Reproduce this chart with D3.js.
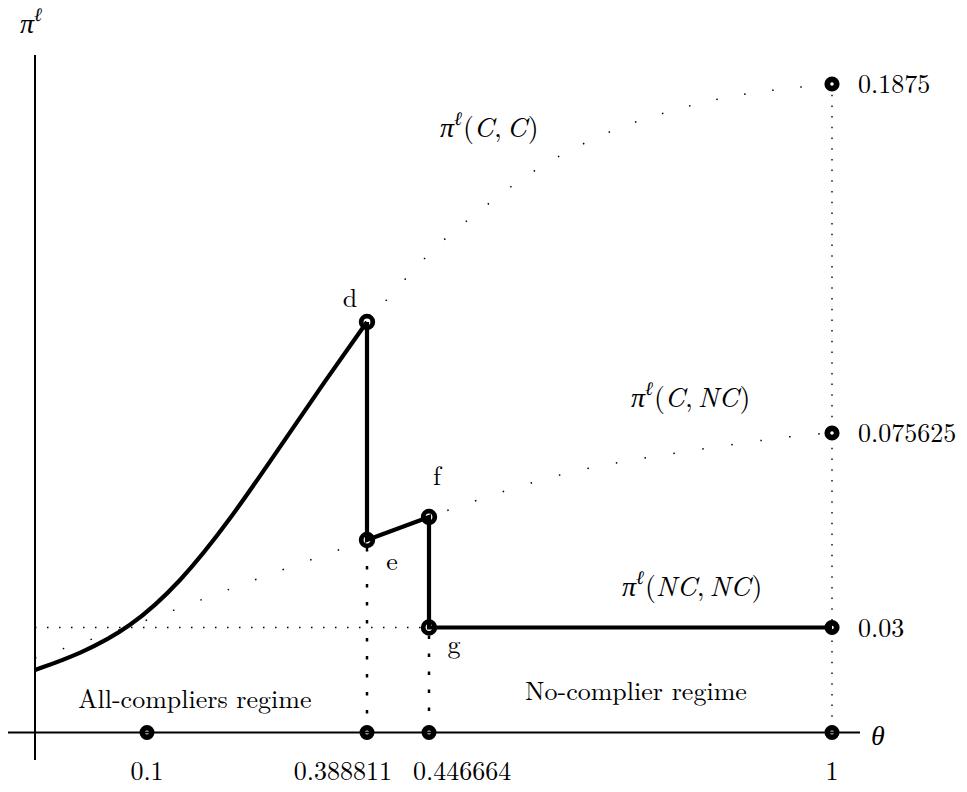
<!DOCTYPE html>
<html>
<head>
<meta charset="utf-8">
<script src="https://cdn.jsdelivr.net/npm/d3@7"></script>
<style>
  html, body { margin: 0; padding: 0; background: #fff; }
  svg { display: block; }
</style>
</head>
<body>
<svg id="chart" width="967" height="792"></svg>
<script>
// ---------- data ----------
const xTicks = [0.1, 0.388811, 0.446664, 1];
const xTickLabels = ["0.1", "0.388811", "0.446664", "1"];
const yTicks = [0.1875, 0.075625, 0.03];
const yTickLabels = ["0.1875", "0.075625", "0.03"];

// solid equilibrium profit path (all-compliers regime, rising to d)
const solidTheta = [0, 0.04018, 0.08482, 0.14332, 0.20896, 0.27460, 0.33367, 0.388811];
const solidPi    = [0.01786, 0.02243, 0.02986, 0.04044, 0.05522, 0.07234, 0.09229, 0.11121];

// key points d, e, f, g
const keyNames = ["d", "e", "f", "g"];
const keyTheta = [0.388811, 0.388811, 0.446664, 0.446664];
const keyPi    = [0.11121, 0.05053, 0.05592, 0.03];

// pi(C,C) dotted curve
const ccTheta = [0.388811, 0.446664, 0.50708, 0.57024, 0.63889, 0.71166, 0.78855, 0.86544, 0.94507, 1];
const ccPi    = [0.11121, 0.13300, 0.14519, 0.15640, 0.16602, 0.17372, 0.17949, 0.18365, 0.18622, 0.1875];

// pi(C,NC) dotted curve
const cncTheta = [0, 0.1, 0.24441, 0.388811, 0.446664, 0.58671, 0.70342, 0.82150, 0.93958, 1];
const cncPi    = [0.02129, 0.03176, 0.04138, 0.05053, 0.05592, 0.06390, 0.06859, 0.07187, 0.07469, 0.075625];

// pi(NC,NC) level
const ncncPi = 0.03;

// ---------- scales (schematic, piecewise) ----------
const svg = d3.select("#chart");
const FONT = "Latin Modern Roman";
const x = d3.scaleLinear().domain([0, 0.1, 0.388811, 0.446664, 1]).range([35, 147, 367, 429, 832]);
const y = d3.scaleLinear().domain([0, 0.03, 0.075625, 0.1875]).range([732.5, 627.5, 433, 84]);

const FS = 26;
const MFS = 28;

// ---------- dotted guides ----------
svg.append("line")
  .attr("x1", x(0)).attr("x2", x(keyTheta[3]))
  .attr("y1", y(ncncPi)).attr("y2", y(ncncPi))
  .attr("stroke", "#000").attr("stroke-width", 1.4)
  .attr("stroke-dasharray", "1.5 10.5");

svg.append("line")
  .attr("x1", x(1)).attr("x2", x(1))
  .attr("y1", y(0.1875)).attr("y2", y(0))
  .attr("stroke", "#000").attr("stroke-width", 1.4)
  .attr("stroke-dasharray", "1.5 9.2");

[[keyTheta[1], keyPi[1]], [keyTheta[3], keyPi[3]]].forEach(p => {
  svg.append("line")
    .attr("x1", x(p[0])).attr("x2", x(p[0]))
    .attr("y1", y(p[1]) + 8).attr("y2", y(0))
    .attr("stroke", "#000").attr("stroke-width", 2.5)
    .attr("stroke-dasharray", "3.5 14.5");
});

svg.append("path")
  .attr("d", d3.line().x(d => x(d[0])).y(d => y(d[1])).curve(d3.curveNatural)(d3.zip(ccTheta, ccPi)))
  .attr("fill", "none").attr("stroke", "#000").attr("stroke-width", 1.5)
  .attr("stroke-dasharray", "1.5 26.7");

svg.append("path")
  .attr("d", d3.line().x(d => x(d[0])).y(d => y(d[1])).curve(d3.curveNatural)(d3.zip(cncTheta, cncPi)))
  .attr("fill", "none").attr("stroke", "#000").attr("stroke-width", 1.5)
  .attr("stroke-dasharray", "1.5 27.7");

// ---------- circles (drawn under lines) ----------
function ring(cx, cy, r, sw) {
  svg.append("circle").attr("cx", cx).attr("cy", cy).attr("r", r)
    .attr("fill", "#fff").attr("stroke", "#000").attr("stroke-width", sw);
}
yTicks.forEach(v => ring(x(1), y(v), 4.7, 5.8));
xTicks.forEach(t => ring(x(t), y(0), 4.8, 5.4));
keyTheta.forEach((t, i) => ring(x(t), y(keyPi[i]), 5.8, 4.8));

// ---------- axes ----------
svg.append("line").attr("x1", 8).attr("x2", 860).attr("y1", y(0)).attr("y2", y(0))
  .attr("stroke", "#000").attr("stroke-width", 2);
svg.append("line").attr("x1", x(0)).attr("x2", x(0)).attr("y1", 55).attr("y2", 760)
  .attr("stroke", "#000").attr("stroke-width", 2);

// ---------- solid path ----------
const lw = 4.2;
svg.append("path")
  .attr("d", d3.line().x(d => x(d[0])).y(d => y(d[1])).curve(d3.curveBasis)(d3.zip(solidTheta, solidPi)))
  .attr("fill", "none").attr("stroke", "#000").attr("stroke-width", lw)
  .attr("stroke-linejoin", "round");
svg.append("path")
  .attr("d", d3.line().x(d => x(d[0])).y(d => y(d[1]))([
    [keyTheta[0], keyPi[0]], [keyTheta[1], keyPi[1]], [keyTheta[2], keyPi[2]],
    [keyTheta[3], keyPi[3]], [1, ncncPi]
  ]))
  .attr("fill", "none").attr("stroke", "#000").attr("stroke-width", lw)
  .attr("stroke-linejoin", "miter");

// ---------- text helpers ----------
function txt(px, py, size) {
  return svg.append("text").attr("x", px).attr("y", py)
    .attr("font-family", FONT).attr("font-size", size || FS).attr("fill", "#000");
}

// ---------- tick labels ----------
const xLabelShift = [0, 25, -16, 0];
const xLabelAnchor = ["middle", "end", "start", "middle"];
xTicks.forEach((t, i) => {
  txt(x(t) + xLabelShift[i], 780).attr("text-anchor", xLabelAnchor[i]).text(xTickLabels[i]);
});
yTicks.forEach((v, i) => {
  txt(858, y(v) + 9).text(yTickLabels[i]);
});

// ---------- point labels ----------
const keyLabelDx = [-17, 25, 8, 25];
const keyLabelDy = [-15, 30, -32, 25];
keyNames.forEach((n, i) => {
  txt(x(keyTheta[i]) + keyLabelDx[i], y(keyPi[i]) + keyLabelDy[i])
    .attr("text-anchor", "middle").text(n);
});

// ---------- math labels ----------
function mathLabel(px, py, parts) {
  const t = txt(px, py, MFS);
  parts.forEach(p => {
    const s = t.append("tspan").text(p.t);
    if (p.i) s.attr("font-style", "italic");
    if (p.sup) s.attr("font-size", 19).attr("dy", -12);
    if (p.down) s.attr("dy", 12);
    if (p.dx) s.attr("dx", p.dx);
  });
  return t;
}
function piLabel(px, py, a, b) {
  return mathLabel(px, py, [{t: "π", i: true}, {t: "ℓ", i: true, sup: true}, {t: "(", down: true, dx: 1},
    {t: a, i: true}, {t: ","}, {t: b, i: true, dx: 5}, {t: ")", dx: 1}]);
}
piLabel(440, 137, "C", "C");
piLabel(631, 407, "C", "NC");
piLabel(622, 596, "NC", "NC");
mathLabel(20, 33, [{t: "π", i: true}, {t: "ℓ", i: true, sup: true}]);
mathLabel(871, 745, [{t: "θ", i: true}]);

// ---------- regime labels ----------
txt(78, 708).text("All-compliers regime");
txt(525, 700).text("No-complier regime");
</script>
</body>
</html>
